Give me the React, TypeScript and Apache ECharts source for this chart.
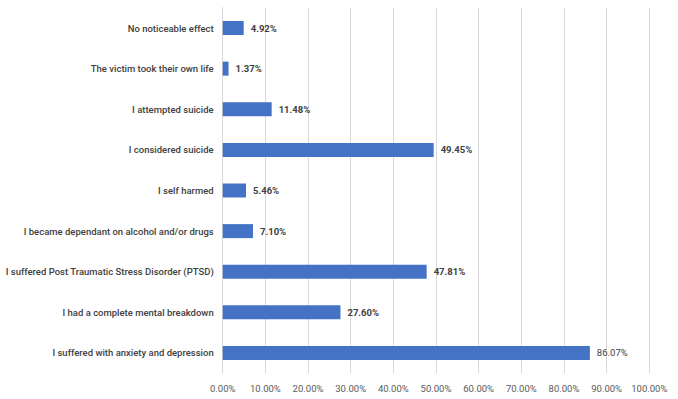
import React, { useEffect, useRef } from "react";
import * as echarts from "echarts";

const categories = [
  "I suffered with anxiety and depression",
  "I had a complete mental breakdown",
  "I suffered Post Traumatic Stress Disorder (PTSD)",
  "I became dependant on alcohol and/or drugs",
  "I self harmed",
  "I considered suicide",
  "I attempted suicide",
  "The victim took their own life",
  "No noticeable effect",
];
const values = [86.07, 27.6, 47.81, 7.1, 5.46, 49.45, 11.48, 1.37, 4.92];

export default function App() {
  const ref = useRef<HTMLDivElement>(null);
  useEffect(() => {
    const chart = echarts.init(ref.current!, null, { renderer: "svg" });
    chart.setOption({
      animation: false,
      grid: { left: 222.7, right: 28.7, top: 7.7, bottom: 25.7, containLabel: false },
      xAxis: {
        type: "value",
        min: 0,
        max: 100,
        interval: 10,
        axisLine: { show: false },
        axisTick: { show: false },
        splitLine: { lineStyle: { color: "#d9d9d9", width: 1 } },
        axisLabel: {
          formatter: (v: number) => v.toFixed(2) + "%",
          color: "#595959",
          fontSize: 9.5,
          fontFamily: "Roboto",
          margin: 10,
        },
      },
      yAxis: {
        type: "category",
        data: categories,
        axisLine: { show: true, lineStyle: { color: "#d9d9d9" } },
        axisTick: { show: false },
        axisLabel: {
          color: "#404040",
          fontSize: 9.5,
          fontWeight: 500,
          fontFamily: "Roboto",
          margin: 9,
        },
      },
      series: [
        {
          type: "bar",
          data: values.map((v, i) =>
            i === 0 ? { value: v, label: { fontWeight: "normal" } } : v
          ),
          barWidth: 14,
          itemStyle: { color: "#4472c4" },
          label: {
            show: true,
            position: "right",
            distance: 7,
            formatter: (p: any) => p.value.toFixed(2) + "%",
            color: "#404040",
            fontSize: 9.5,
            fontWeight: "bold",
            fontFamily: "Roboto",
          },
        },
      ],
    });
    return () => chart.dispose();
  }, []);
  return <div ref={ref} style={{ width: 678, height: 399, position: "absolute", left: 0, top: 0, background: "#fff" }} />;
}
